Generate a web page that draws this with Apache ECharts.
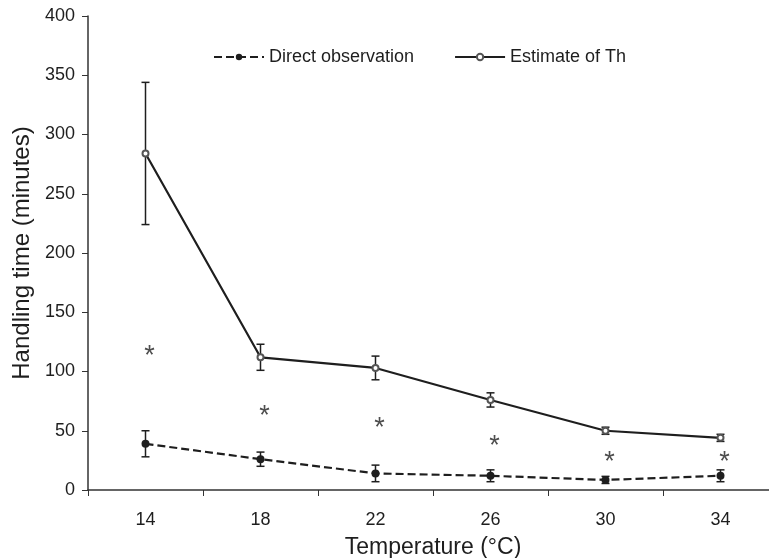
<!DOCTYPE html>
<html>
<head>
<meta charset="utf-8">
<script src="https://cdn.jsdelivr.net/npm/echarts@6/dist/echarts.min.js"></script>
<style>
  html, body { margin: 0; padding: 0; background: #fff; }
  #chart { width: 769px; height: 558px; }
</style>
</head>
<body>
<div id="chart"></div>
<script>
const temps = ['14', '18', '22', '26', '30', '34'];
const directMean = [39, 26, 14, 12, 8.5, 12];
const directErr = [11, 6, 7, 5, 3, 5];
const thMean = [284, 112, 103, 76, 50, 44];
const thErr = [60, 11, 10, 6, 3, 3];
// where the significance asterisks sit (minutes)
const starPos = [118, 67, 57, 42, 28, 28];

const ink = '#1e1e1e';
const axisInk = '#333';

function errData(mean, err) {
  return mean.map((m, i) => [i, m - err[i], m + err[i]]);
}

function errBars(params, api) {
  const lo = api.coord([api.value(0), api.value(1)]);
  const hi = api.coord([api.value(0), api.value(2)]);
  const cap = 4;
  const style = { stroke: ink, lineWidth: 1.5 };
  return {
    type: 'group',
    children: [
      { type: 'line', shape: { x1: lo[0], y1: lo[1], x2: hi[0], y2: hi[1] }, style: style },
      { type: 'line', shape: { x1: lo[0] - cap, y1: lo[1], x2: lo[0] + cap, y2: lo[1] }, style: style },
      { type: 'line', shape: { x1: hi[0] - cap, y1: hi[1], x2: hi[0] + cap, y2: hi[1] }, style: style }
    ]
  };
}

const chart = echarts.init(document.getElementById('chart'));
chart.setOption({
  animation: false,
  textStyle: { fontFamily: 'Liberation Sans, Arial, sans-serif' },
  grid: { left: 88, top: 16, width: 690, bottom: 68, outerBoundsMode: 'none', containLabel: false },
  legend: {
    left: 208,
    top: 43,
    itemWidth: 50,
    itemHeight: 8,
    itemGap: 40,
    textStyle: { fontSize: 18, color: ink },
    data: ['Direct observation', 'Estimate of Th']
  },
  xAxis: {
    type: 'category',
    data: temps,
    boundaryGap: true,
    name: 'Temperature (°C)',
    nameLocation: 'middle',
    nameGap: 46,
    nameTextStyle: { fontSize: 23, color: ink },
    axisLine: { lineStyle: { color: axisInk, width: 1.5 } },
    axisTick: { show: true, length: 6, alignWithLabel: false, lineStyle: { color: axisInk } },
    axisLabel: { fontSize: 18, color: ink, margin: 21 },
    splitLine: { show: false }
  },
  yAxis: {
    type: 'value',
    min: 0,
    max: 400,
    interval: 50,
    name: 'Handling time (minutes)',
    nameLocation: 'middle',
    nameGap: 53,
    nameTextStyle: { fontSize: 24, color: ink },
    axisLine: { show: true, lineStyle: { color: axisInk, width: 1.5 } },
    axisTick: { show: true, length: 6, lineStyle: { color: axisInk } },
    axisLabel: { fontSize: 18, color: ink, margin: 13 },
    splitLine: { show: false }
  },
  series: [
    {
      name: 'Direct observation',
      type: 'line',
      data: directMean,
      symbol: 'circle',
      symbolSize: 8,
      itemStyle: { color: ink },
      lineStyle: { color: ink, width: 2.2, type: [8, 4] },
      z: 3
    },
    {
      name: 'Estimate of Th',
      type: 'line',
      data: thMean,
      symbol: 'emptyCircle',
      symbolSize: 6,
      itemStyle: { color: '#555', borderWidth: 1.5 },
      lineStyle: { color: ink, width: 2.2 },
      z: 3
    },
    {
      type: 'custom',
      renderItem: errBars,
      data: errData(directMean, directErr),
      encode: { x: 0, y: [1, 2] },
      z: 2
    },
    {
      type: 'custom',
      renderItem: errBars,
      data: errData(thMean, thErr),
      encode: { x: 0, y: [1, 2] },
      z: 2
    },
    {
      type: 'scatter',
      data: starPos,
      symbolSize: 1,
      itemStyle: { color: 'rgba(0,0,0,0)' },
      label: {
        show: true,
        position: 'inside',
        formatter: '*',
        fontSize: 27,
        color: '#222',
        offset: [4, 6]
      },
      silent: true
    }
  ]
});
</script>
</body>
</html>
